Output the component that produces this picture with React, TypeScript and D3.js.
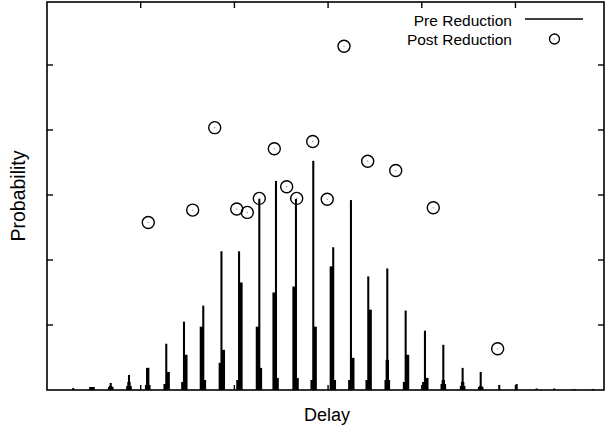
import React from 'react';
import * as d3 from 'd3';

// Pre reduction histogram: tall spikes, their shoulders and bases
const spikeDelay = [28, 48, 68, 87.5, 107.5, 127.3, 146.2, 166.8, 186.2, 205, 226.6, 244.4, 265.7, 284.2, 305.5, 324.4, 342.9, 363.2, 382.8, 403.4, 423, 443.6, 462.9, 482.7, 501.3, 522.6, 541.4, 562.8, 582.7];
const spikeProb = [0.0015, 0.0023, 0.0054, 0.0116, 0.017, 0.0356, 0.0526, 0.0649, 0.1067, 0.1067, 0.1469, 0.1608, 0.1469, 0.1763, 0.1098, 0.1461, 0.0874, 0.0935, 0.0611, 0.0456, 0.0348, 0.017, 0.0139, 0.0039, 0.0046, 0.0012, 0.0012, 0.0008, 0.0008];

const shoulderDelay = [68, 87.5, 107.5, 129.3, 148.2, 164.8, 188.2, 207, 224.6, 242.4, 263.7, 286.2, 303.5, 326.4, 344.9, 363.2, 384.8, 405.4, 423, 443.6, 462.9];
const shoulderProb = [0.0031, 0.0062, 0.017, 0.0139, 0.0271, 0.0487, 0.0309, 0.0827, 0.0487, 0.075, 0.0796, 0.0487, 0.0951, 0.0247, 0.0618, 0.0232, 0.0271, 0.0093, 0.0077, 0.0062, 0.0031];

const baseDelay = [48, 68, 87.5, 107.5, 127.3, 146.2, 166.8, 186.2, 205, 226.6, 244.4, 265.7, 284.2, 305.5, 324.4, 342.9, 363.2, 382.8, 403.4, 423, 443.6, 462.9];
const baseProb = [0.0023, 0.0023, 0.0031, 0.0039, 0.0046, 0.0062, 0.0077, 0.0209, 0.0077, 0.017, 0.0093, 0.0093, 0.0077, 0.0077, 0.0077, 0.0077, 0.0077, 0.0062, 0.0062, 0.0046, 0.0031, 0.0023];

// Post reduction points
const postDelay = [108.1, 155.5, 179, 202.5, 213.8, 226.6, 242.6, 255.8, 266.5, 283.6, 299.1, 317, 342.3, 372.2, 412.3, 481];
const postProb = [0.1289, 0.1384, 0.2018, 0.1392, 0.1366, 0.1474, 0.1856, 0.1564, 0.1474, 0.1912, 0.1467, 0.2644, 0.176, 0.1688, 0.1402, 0.0317];

const xTicks = [100, 200, 300, 400, 500];
const yTicks = [0.05, 0.1, 0.15, 0.2, 0.25];

const W = 608, H = 432;
const left = 47, right = 604, top = 2, bottom = 390;

const App: React.FC = () => {
  const x = d3.scaleLinear().domain([0, 594.5]).range([left, right]);
  const y = d3.scaleLinear().domain([0, 0.3]).range([bottom, 0]);
  const font = '"Liberation Sans", Arial, Helvetica, sans-serif';

  const bars = (delays: number[], probs: number[], w: number, key: string) =>
    delays.map((d, i) => (
      <rect key={key + i} x={x(d - w / 2)} y={y(probs[i])} width={x(d + w / 2) - x(d - w / 2)}
        height={bottom - y(probs[i])} fill="#000" />
    ));

  return (
    <svg width={W} height={H} style={{ position: 'absolute', left: 0, top: 0, background: '#fff' }}>
      {bars(baseDelay, baseProb, 6, 'b')}
      {bars(shoulderDelay, shoulderProb, 3.6, 's')}
      {bars(spikeDelay, spikeProb, 2.2, 'p')}

      {/* frame and inward ticks */}
      <rect x={left} y={top} width={right - left} height={bottom - top} fill="none" stroke="#000" strokeWidth={1.6} />
      {xTicks.map(t => (
        <g key={'xt' + t} stroke="#000" strokeWidth={1.4}>
          <line x1={x(t)} x2={x(t)} y1={top} y2={top + 6} />
          <line x1={x(t)} x2={x(t)} y1={bottom} y2={bottom - 5} />
        </g>
      ))}
      {yTicks.map(t => (
        <g key={'yt' + t} stroke="#000" strokeWidth={1.4}>
          <line x1={left} x2={left + 6} y1={y(t)} y2={y(t)} />
          <line x1={right} x2={right - 6} y1={y(t)} y2={y(t)} />
        </g>
      ))}

      {postDelay.map((d, i) => (
        <g key={'c' + i}>
          <circle cx={x(d)} cy={y(postProb[i])} r={6} fill="none" stroke="#000" strokeWidth={1.4} />
          <circle cx={x(d)} cy={y(postProb[i])} r={0.6} fill="#777" />
        </g>
      ))}

      {/* legend */}
      <g fontFamily={font} fontSize={15.5} fill="#000">
        <text x={512} y={25.5} textAnchor="end">Pre Reduction</text>
        <line x1={525} x2={583} y1={19} y2={19} stroke="#000" strokeWidth={1.4} />
        <text x={512} y={44.5} textAnchor="end">Post Reduction</text>
        <circle cx={554.5} cy={39} r={5} fill="none" stroke="#000" strokeWidth={1.3} />
        <circle cx={554.5} cy={39} r={0.6} fill="#777" />
      </g>

      <text x={327} y={421} textAnchor="middle" fontFamily={font} fontSize={18}>Delay</text>
      <text transform={`translate(25,${(top + bottom) / 2}) rotate(-90)`} textAnchor="middle"
        fontFamily={font} fontSize={19.5}>Probability</text>
    </svg>
  );
};

export default App;
